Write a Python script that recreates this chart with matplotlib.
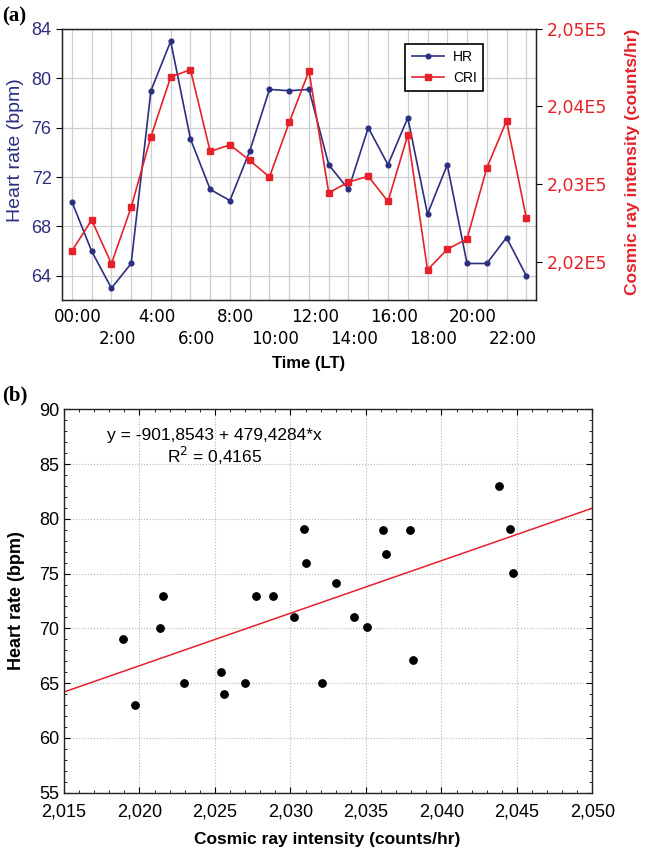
import numpy as np
import matplotlib
matplotlib.use('agg')
import matplotlib.pyplot as plt
import matplotlib.transforms as mtransforms
from matplotlib.ticker import MultipleLocator, FuncFormatter, AutoMinorLocator, FixedLocator

plt.rcParams['font.family'] = ['Liberation Sans', 'DejaVu Sans']

navy = "#2B2F7F"
red = "#E5222A"
gridc = "#cfcfcf"

# data
hours = list(range(24))
label_hours = [0, 2, 4, 6, 8, 10, 12, 14, 16, 18, 20, 22]
hour_labels = ["00:00", "2:00", "4:00", "6:00", "8:00", "10:00",
               "12:00", "14:00", "16:00", "18:00", "20:00", "22:00"]
hr = [70.0, 66.0, 63.0, 65.0, 79.0, 83.0, 75.1, 71.0, 70.1, 74.1, 79.1, 79.0,
      79.1, 73.0, 71.0, 76.0, 73.0, 76.8, 69.0, 73.0, 65.0, 65.0, 67.1, 64.0]
cri = [202135, 202537, 201972, 202700, 203610, 204380, 204475, 203420, 203505,
       203305, 203090, 203795, 204457, 202886, 203025, 203100, 202775, 203630,
       201893, 202157, 202293, 203206, 203815, 202563]
fit_intercept = -901.8543
fit_slope = 479.4284
fit_text = "y = -901,8543 + 479,4284*x\nR$^2$ = 0,4165"

fig = plt.figure(figsize=(6.46, 8.52), dpi=100)

# ---------------- (a) ----------------
ax = fig.add_axes([0.096, 0.648, 0.734, 0.318])
ax2 = ax.twinx()

l1, = ax.plot(hours, hr, color=navy, lw=1.2, marker='o', markersize=3.4, label="HR")
l2, = ax2.plot(hours, cri, color=red, lw=1.2, marker='s', markersize=3.8, label="CRI")

ax.set_xlim(-0.5, 23.5)
ax.set_ylim(62.05, 84)
ax2.set_ylim(201505, 205000)

# two rows of hour labels: upper row on major ticks, lower row on minor ticks
lab_of = dict(zip(label_hours, hour_labels))
upper = label_hours[0::2]
lower = label_hours[1::2]
ax.xaxis.set_major_locator(FixedLocator(upper))
ax.xaxis.set_minor_locator(FixedLocator(hours))
ax.xaxis.set_major_formatter(FuncFormatter(lambda v, p: lab_of.get(int(round(v)), "")))
ax.xaxis.set_minor_formatter(FuncFormatter(lambda v, p: lab_of.get(int(round(v)), "") if int(round(v)) in lower else ""))
ax.tick_params(axis='x', which='both', length=0, labelsize=12, labelfontfamily='DejaVu Sans')
ax.tick_params(axis='x', which='major', pad=6)
ax.tick_params(axis='x', which='minor', pad=22)
ax.set_yticks([64, 68, 72, 76, 80, 84])
ax.tick_params(axis='y', labelsize=13, labelcolor=navy, length=4, direction='out')
ax2.set_yticks([202000, 203000, 204000, 205000])
ax2.yaxis.set_major_formatter(FuncFormatter(lambda v, p: ("%.2fE5" % (v / 1e5)).replace('.', ',')))
ax2.tick_params(axis='y', labelsize=12.5, labelcolor=red, length=4, direction='out',
                labelfontfamily='DejaVu Sans')

# statistica puts the hour labels a bit right of the tick
off = mtransforms.ScaledTranslation(0.06, 0, fig.dpi_scale_trans)
for tk in ax.xaxis.get_major_ticks() + ax.xaxis.get_minor_ticks():
    tk.label1.set_transform(tk.label1.get_transform() + off)

ax.grid(True, which='both', axis='x', color=gridc, lw=0.9)
ax.grid(True, which='major', axis='y', color=gridc, lw=0.9)
for sp in ax2.spines.values():
    sp.set_color("#222222")
    sp.set_linewidth(1.0)

ax.set_xlabel("Time (LT)", fontsize=12, fontweight='bold')
ax.xaxis.set_label_coords(0.521, -0.207)
ax.set_ylabel("Heart rate (bpm)", fontsize=14, color=navy)
ax.yaxis.set_label_coords(-0.080, 0.553)
ax2.set_ylabel("Cosmic ray intensity (counts/hr)", fontsize=12.5, color=red, fontweight='bold')
ax2.yaxis.set_label_coords(1.188, 0.509)

leg = ax2.legend(handles=[l1, l2], loc='upper left', bbox_to_anchor=(0.724, 0.945),
                 borderaxespad=0, fontsize=10, handlelength=2.3, fancybox=False,
                 framealpha=1, borderpad=0.45, labelspacing=0.5, handletextpad=0.7)
leg.get_frame().set_edgecolor("black")
leg.get_frame().set_linewidth(1.2)

fig.text(0.003, 0.992, "(a)", fontsize=15, fontweight='bold', family='Liberation Serif', va='top')

# ---------------- (b) ----------------
bx = fig.add_axes([0.099, 0.0696, 0.818, 0.45])
cri_x = np.array(cri) / 1e5
bx.scatter(cri_x, hr, s=28, color='black', zorder=3)
bx.set_xlim(2.015, 2.050)
bx.set_ylim(55, 90)
xs = np.array(bx.get_xlim())
bx.plot(xs, fit_intercept + fit_slope * xs, color=red, lw=1.1, zorder=2)

bx.xaxis.set_major_locator(MultipleLocator(0.005))
bx.yaxis.set_major_locator(MultipleLocator(5))
bx.xaxis.set_minor_locator(AutoMinorLocator(5))
bx.yaxis.set_minor_locator(AutoMinorLocator(5))
bx.xaxis.set_major_formatter(FuncFormatter(lambda v, p: ("%.3f" % v).replace('.', ',')))
bx.tick_params(which='both', direction='in', top=True, right=True, labelsize=13)
bx.tick_params(which='major', length=4)
bx.tick_params(which='minor', length=2)
bx.tick_params(axis='x', pad=8)
bx.grid(True, which='major', color="#b5b5b5", lw=0.8, linestyle=':')
for sp in bx.spines.values():
    sp.set_color("#222222")
    sp.set_linewidth(1.0)

bx.text(0.285, 0.90, fit_text, transform=bx.transAxes, ha='center', va='center',
        fontsize=12.5, linespacing=1.1)

bx.set_xlabel("Cosmic ray intensity (counts/hr)", fontsize=12.5, fontweight='bold')
bx.xaxis.set_label_coords(0.499, -0.1025)
bx.set_ylabel("Heart rate (bpm)", fontsize=13, fontweight='bold')
bx.yaxis.set_label_coords(-0.074, 0.5)

fig.text(0.003, 0.548, "(b)", fontsize=15, fontweight='bold', family='Liberation Serif', va='top')

fig.savefig("out.png", dpi=100)
